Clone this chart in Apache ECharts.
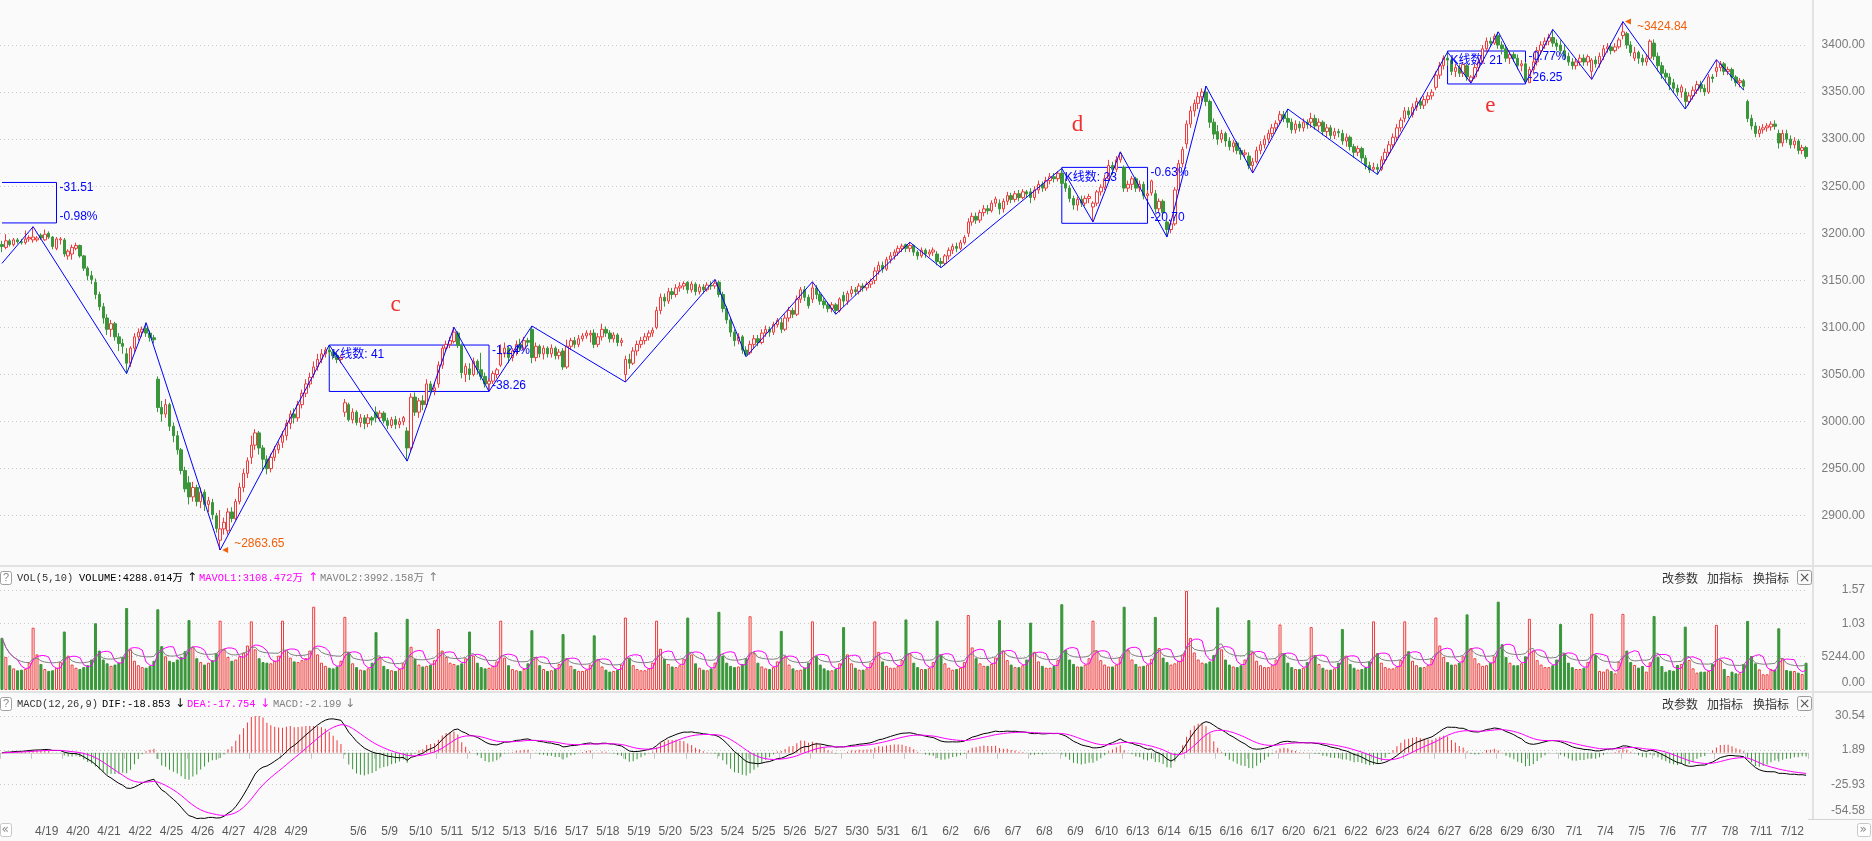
<!DOCTYPE html>
<html>
<head>
<meta charset="utf-8">
<script src="https://cdn.jsdelivr.net/npm/echarts@6/dist/echarts.min.js"></script>
<style>
html,body{margin:0;padding:0;background:#fafafa;overflow:hidden;}
#chart{width:1872px;height:841px;}
</style>
</head>
<body>
<div id="chart"></div>
<script>
// ---------------- data (30-minute bars, 8 per trading day) ----------------
const dates = ['4/18','4/19','4/20','4/21','4/22','4/25','4/26','4/27','4/28','4/29','5/5','5/6','5/9','5/10','5/11','5/12','5/13','5/16','5/17','5/18','5/19','5/20','5/23','5/24','5/25','5/26','5/27','5/30','5/31','6/1','6/2','6/6','6/7','6/8','6/9','6/10','6/13','6/14','6/15','6/16','6/17','6/20','6/21','6/22','6/23','6/24','6/27','6/28','6/29','6/30','7/1','7/4','7/5','7/6','7/7','7/8','7/11','7/12'];
const hiddenDateLabels = ['4/18','5/5'];
const barsPerDay = 8;
// [open, close, low, high]
const kdata = [
[3188,3186,3180,3192],[3185,3192,3183,3199],[3192,3188,3186,3194],[3188,3193,3186,3195],[3193,3191,3189,3195],[3191,3190,3188,3194],[3190,3194,3188,3203],[3194,3195.5,3191,3198],
[3193,3196,3190,3207],[3193,3195,3191,3197],[3198,3195,3193,3200],[3193,3199,3192,3204],[3200,3196,3194,3202],[3196,3186,3183,3197],[3184,3194,3182,3196],[3193,3194,3188,3196],
[3193,3178,3175,3195],[3176,3181,3172,3183],[3178,3185,3172,3188],[3184,3187,3182,3190],[3187,3176,3174,3188],[3176,3163,3160,3177],[3163,3155,3150,3165],[3155,3151,3146,3160],
[3148,3135,3130,3152],[3135,3122,3118,3138],[3122,3110,3104,3126],[3110,3098,3092,3114],[3098,3104,3090,3108],[3104,3090,3086,3106],[3090,3083,3075,3094],[3083,3080,3072,3088],
[3072,3062,3051,3078],[3062,3078,3058,3080],[3078,3090,3074,3094],[3090,3095,3086,3099],[3095,3098,3090,3101],[3099,3094,3090,3105],[3094,3089,3085,3097],[3089,3087,3083,3092],
[3045,3015,3010,3048],[3015,3008,3000,3022],[3008,3018,3004,3024],[3018,2995,2990,3020],[2995,2985,2978,2999],[2985,2970,2965,2990],[2970,2948,2944,2972],[2948,2928.5,2925,2952],
[2935,2920,2912,2942],[2920,2930,2915,2936],[2930,2915,2910,2933],[2915,2925,2908,2930],[2925,2912,2905,2928],[2912,2916,2904,2920],[2914,2901,2896,2918],[2900,2886.4,2882,2903],
[2874,2886,2863.65,2906],[2886,2893,2880,2898],[2884,2904,2880,2908],[2904,2897,2893,2909],[2897,2915,2895,2918],[2915,2930,2912,2935],[2930,2945,2925,2950],[2945,2958.3,2940,2962],
[2962,2975,2955,2985],[2975,2988,2970,2992],[2988,2972,2965,2990],[2972,2960,2948,2975],[2960,2950,2944,2964],[2950,2962,2946,2966],[2962,2970,2958,2974],[2970,2975.5,2966,2979],
[2978,2985,2972,2990],[2985,2998,2980,3002],[2998,3008,2992,3012],[3008,3004,2998,3014],[3004,3018,3000,3022],[3018,3030,3014,3034],[3030,3040,3026,3045],[3040,3047,3036,3052],
[3050,3058,3046,3064],[3058,3066,3054,3072],[3066,3072,3062,3077],[3072,3076,3068,3079],[3076,3074,3070,3081.3],[3074,3070,3066,3077],[3070,3066,3062,3073],[3066,3067.8,3062,3071],
[3010,3020,3005,3024],[3018,3002,3000,3020],[3002,3010,2998,3014],[3010,2999,2996,3012],[2999,3004,2994,3008],[3004,2998,2992,3007],[2998,3004,2994,3008],[3004,3001.6,2996,3006],
[3010,3004,2999,3016],[3004,3009,3000,3012],[3009,3001,2998,3011],[3001,2996,2992,3004],[2996,3002,2993,3005],[3002,2997,2992,3006],[2997,3000,2993,3004],[3000,3004.1,2996,3006],
[2990,2972,2958,2994],[2972,3026,2968,3030],[3026,3010,3006,3031],[3010,3022,3004,3025],[3022,3018,3012,3028],[3018,3040,3015,3045],[3040,3033,3030,3043],[3033,3035.8,3028,3041],
[3040,3060,3036,3064],[3060,3078,3056,3081],[3078,3082,3074,3086],[3082,3086,3078,3090],[3085,3095,3083,3100.3],[3094,3081,3078,3096],[3081,3052,3046,3083],[3050,3058.7,3042,3062],
[3056,3050,3044,3062],[3050,3064,3048,3068],[3064,3055,3050,3066],[3055,3048,3044,3073],[3048,3040,3036,3052],[3040,3043,3032,3046],[3043,3051,3040,3054],[3050,3055,3046,3057],
[3060,3072,3058,3082],[3072,3078,3068,3084],[3078,3068,3062,3080],[3068,3075,3064,3078],[3075,3082,3070,3086],[3082,3078,3074,3088],[3078,3086,3075,3090],[3086,3084.3,3080,3089],
[3098,3068,3062,3101.5],[3068,3080,3064,3084],[3080,3072,3068,3082],[3072,3078,3066,3081],[3078,3072,3068,3080],[3072,3078,3068,3082],[3078,3070,3066,3080],[3070,3073.8,3066,3077],
[3075,3058,3055,3078],[3058,3080,3056,3087],[3080,3086,3076,3089],[3086,3082,3078,3090],[3082,3088,3079,3092],[3088,3091,3085,3094],[3091,3094,3088,3097],[3092,3093.7,3084,3097],
[3094,3082,3078,3098],[3082,3090,3079,3094],[3090,3098,3086,3104],[3098,3094,3090,3101],[3094,3088,3084,3097],[3088,3092,3084,3095],[3092,3084,3080,3094],[3084,3086,3080,3089],
[3050,3066,3042,3070],[3066,3062,3056,3072],[3062,3075,3060,3079],[3075,3082,3070,3086],[3082,3086,3078,3090],[3086,3090,3082,3094],[3090,3094,3086,3097],[3094,3097,3090,3100],
[3100,3118,3098,3122],[3118,3132,3114,3136],[3132,3128,3122,3136],[3128,3138,3125,3142],[3138,3135,3130,3142],[3135,3142,3132,3146],[3142,3144,3138,3148],[3144,3146.6,3140,3149],
[3148,3140,3136,3149],[3140,3146,3137,3149],[3146,3138,3134,3148],[3138,3143,3135,3146],[3143,3140,3136,3146],[3140,3145,3138,3148],[3145,3144,3140,3149],[3144,3146.9,3141,3151],
[3148,3135,3132,3150],[3135,3120,3116,3138],[3120,3108,3104,3123],[3108,3095,3090,3111],[3095,3086,3080,3098],[3086,3090,3082,3094],[3090,3076,3072,3092],[3076,3070.9,3069,3080],
[3073,3082,3071,3086],[3082,3088,3078,3092],[3088,3084,3080,3092],[3084,3094,3082,3098],[3094,3098,3090,3102],[3098,3095,3090,3101],[3095,3103,3092,3106],[3103,3107.5,3100,3110],
[3105,3098,3094,3110],[3098,3110,3096,3114],[3110,3118,3106,3122],[3118,3114,3110,3121],[3114,3130,3112,3134],[3130,3140,3126,3143],[3140,3132,3128,3144],[3132,3123.1,3120,3135],
[3130,3142,3126,3148.5],[3142,3135,3130,3145],[3135,3128,3124,3138],[3128,3124,3120,3131],[3124,3120,3116,3127],[3120,3124,3116,3127],[3124,3118,3114,3126],[3118,3130.2,3116,3132],
[3134,3128,3122,3138],[3128,3136,3124,3139],[3136,3140,3132,3144],[3140,3138,3134,3143],[3138,3144,3135,3147],[3144,3142,3138,3147],[3142,3146,3139,3149],[3146,3149.1,3142,3152],
[3150,3160,3146,3164],[3160,3166,3156,3170],[3166,3162,3158,3170],[3162,3172,3160,3175],[3172,3176,3168,3180],[3176,3180,3172,3183],[3180,3184,3176,3187],[3184,3186.4,3180,3189],
[3188,3184,3180,3189],[3184,3187,3180,3190.5],[3187,3180,3176,3188],[3180,3176,3172,3182],[3176,3182,3174,3185],[3182,3178,3174,3184],[3178,3180,3175,3183],[3180,3182.2,3176,3185],
[3178,3170,3166,3181],[3170,3168,3163.5,3174],[3168,3176,3166,3178],[3176,3182,3172,3185],[3182,3186,3178,3189],[3186,3184,3180,3190],[3184,3190,3182,3193],[3190,3195.5,3188,3198],
[3200,3212,3196,3216],[3212,3218,3208,3222],[3218,3214,3210,3222],[3214,3222,3211,3225],[3222,3226,3218,3230],[3226,3224,3220,3230],[3224,3232,3222,3235],[3232,3236.4,3228,3239],
[3232,3226,3220,3236],[3226,3234,3222,3237],[3234,3240,3230,3244],[3240,3236,3232,3243],[3236,3242,3233,3245],[3242,3238,3234,3246],[3238,3244,3236,3247],[3244,3241.8,3238,3246],
[3244,3238,3232,3248],[3238,3246,3235,3250],[3246,3252,3242,3256],[3252,3248,3244,3255],[3248,3256,3245,3260],[3256,3260,3252,3264],[3260,3258,3254,3264],[3258,3263.8,3255,3266],
[3264,3253,3250,3269],[3253,3248,3244,3258],[3248,3237,3233,3251],[3237,3230,3225,3240],[3230,3236,3224,3239],[3236,3232,3228,3240],[3232,3237,3229,3240],[3237,3239,3232,3242],
[3228,3232,3212,3234],[3232,3244,3229,3246],[3244,3249,3240,3252],[3249,3258,3246,3262],[3258,3272,3256,3278],[3272,3268,3262,3276],[3268,3278,3265,3282],[3278,3284.8,3275,3286.5],
[3270,3248,3244,3272],[3248,3252,3244,3256],[3252,3258,3246,3261],[3258,3248,3244,3260],[3248,3252,3244,3256],[3252,3240,3236,3255],[3240,3242,3236,3246],[3243,3255.6,3240,3257],
[3242,3226,3222,3246],[3226,3234,3222,3237],[3234,3222,3218,3236],[3212,3204,3196,3214],[3204,3210,3200,3214],[3210,3246,3208,3249],[3246,3274,3244,3278],[3274,3288.9,3270,3292],
[3295,3316,3290,3320],[3316,3330,3312,3335],[3330,3338,3324,3342],[3338,3345,3332,3350],[3345,3350,3340,3354],[3350,3340,3335,3356.4],[3340,3318,3312,3342],[3318,3305.4,3300,3322],
[3308,3300,3294,3315],[3300,3306,3296,3310],[3306,3298,3292,3308],[3298,3292,3288,3302],[3292,3296,3286,3299],[3296,3288,3284,3298],[3288,3284,3278,3291],[3284,3285.4,3280,3289],
[3282,3272,3268,3286],[3272,3276,3264,3280],[3276,3288,3274,3292],[3288,3294,3284,3298],[3294,3300,3290,3304],[3300,3306,3296,3310],[3306,3312,3302,3316],[3312,3316.8,3308,3320],
[3320,3326,3316,3330],[3326,3322,3318,3330],[3322,3318,3312,3332],[3318,3310,3306,3322],[3310,3316,3306,3320],[3316,3312,3308,3319],[3312,3318,3308,3322],[3318,3315.4,3311,3321],
[3318,3322,3312,3328],[3322,3314,3310,3326],[3314,3318,3309,3322],[3318,3308,3304,3320],[3308,3312,3302,3316],[3312,3304,3300,3315],[3304,3308,3300,3312],[3308,3306.7,3302,3311],
[3306,3298,3294,3310],[3298,3302,3292,3306],[3302,3292,3288,3304],[3292,3286,3280,3295],[3286,3290,3282,3293],[3290,3280,3276,3292],[3280,3272,3268,3283],[3272,3267.2,3264,3276],
[3268,3270,3266,3275],[3270,3268,3262.5,3274],[3268,3278,3266,3282],[3278,3286,3274,3290],[3286,3294,3282,3298],[3294,3302,3290,3306],[3302,3312,3298,3316],[3312,3320.2,3308,3323],
[3322,3330,3318,3334],[3330,3326,3322,3334],[3326,3334,3323,3338],[3334,3340,3330,3344],[3340,3336,3332,3344],[3336,3342,3332,3346],[3342,3346,3338,3350],[3346,3349.8,3342,3353],
[3355,3368,3352,3372],[3368,3378,3364,3382],[3378,3386,3374,3389],[3386,3384,3378,3392.5],[3384,3372,3368,3386],[3372,3376,3366,3380],[3376,3370,3366,3379],[3370,3379.2,3366,3382],
[3378,3366,3362,3380],[3362,3366,3359.5,3368],[3366,3376,3364,3380],[3376,3382,3372,3386],[3382,3396,3380,3400],[3396,3404,3392,3408],[3404,3402,3398,3408],[3402,3409.2,3400,3412],
[3410,3400,3396,3414],[3400,3396,3390,3404],[3396,3386,3382,3400],[3386,3390,3380,3394],[3390,3386,3382,3393],[3386,3378,3374,3390],[3378,3380,3372,3384],[3380,3361.5,3359.5,3382],
[3360,3374,3360.5,3377],[3374,3382,3370,3386],[3382,3394,3378,3398],[3394,3400,3390,3404],[3400,3404,3396,3408],[3404,3408,3400,3412],[3408,3402,3398,3416.6],[3402,3398.6,3394,3406],
[3400,3394,3390,3405],[3394,3388,3384,3400],[3388,3382,3378,3392],[3382,3378,3374,3386],[3378,3382,3374,3386],[3382,3386,3378,3390],[3386,3382,3378,3390],[3382,3387.6,3378,3390],
[3372,3384,3363.5,3386],[3384,3380,3376,3388],[3380,3388,3376,3392],[3388,3396,3384,3400],[3396,3398,3392,3402],[3398,3394,3390,3402],[3394,3398,3392,3402],[3398,3405.4,3396,3408],
[3410,3414,3406,3424.84],[3412,3400,3396,3414],[3400,3392,3388,3404],[3386,3392,3383,3398],[3392,3386,3380,3394],[3386,3382,3378,3390],[3382,3386,3378,3390],[3386,3404,3384,3406],
[3402,3388,3384,3406],[3388,3378,3372,3392],[3378,3370,3364,3382],[3370,3366,3360,3374],[3366,3358,3352,3370],[3360,3354,3350,3364],[3354,3350,3346,3358],[3350,3355.4,3344,3358],
[3350,3340,3332,3354],[3340,3346,3336,3350],[3346,3352,3342,3356],[3352,3358,3348,3362],[3358,3354,3350,3362],[3354,3350,3346,3358],[3350,3366,3348,3369],[3366,3364.4,3360,3369],
[3372,3376,3366,3384.4],[3376,3380,3372,3383],[3380,3372,3368,3382],[3372,3374,3368,3377],[3374,3366,3362,3376],[3366,3360,3356,3368],[3360,3362,3355,3365],[3362,3356.1,3352,3364],
[3340,3322,3318,3342],[3322,3314,3310,3326],[3314,3306,3302,3318],[3306,3310,3302,3314],[3310,3312,3306,3316],[3312,3314,3308,3317],[3313,3316,3309,3319],[3316,3313.6,3310,3320],
[3306,3296,3290,3310],[3296,3306,3292,3310],[3306,3300,3296,3310],[3300,3294,3290,3304],[3294,3298,3290,3302],[3298,3288,3284,3300],[3288,3291,3284,3294],[3291,3281.5,3279,3293]
];
// volume per bar (万)
const volumes = [
8200,5200,3900,3400,3100,3200,3300,4300,
9800,5600,4100,3300,3000,3100,3500,4400,
9200,5400,4000,3500,3300,3600,3900,4800,
10500,6200,4800,4200,3800,4000,4300,5200,
12900,6400,4600,3900,3600,3500,3800,4600,
12700,6900,5300,4600,4400,4800,5200,6100,
11000,6800,5000,4400,4000,4300,4700,5800,
10900,6500,5200,4600,4800,5300,5900,7000,
10800,6400,5000,4400,4300,4200,4600,5400,
10900,6300,5100,4500,4400,4700,5000,6200,
13100,5600,4300,3800,3500,3400,3700,4600,
11500,6000,4200,3600,3200,3100,3400,4300,
9100,5200,3800,3300,3100,3000,3300,4200,
11200,6800,4900,4000,3700,3800,4000,4700,
9600,6200,5200,4300,4100,3900,4200,5000,
9200,5400,4300,3600,3400,3500,3800,4500,
10900,5100,3900,3300,3100,3000,3300,4200,
9400,5200,3900,3300,3000,3100,3300,4100,
8800,5000,3800,3300,3000,3000,3200,4000,
8600,4900,3700,3200,2900,3000,3200,4000,
11400,5100,3900,3300,3100,3100,3400,4300,
10900,6500,4900,4100,3700,3600,3900,4900,
11400,5600,4200,3500,3200,3100,3400,4300,
12300,5400,4300,3800,3600,3700,4100,5000,
11600,5800,4300,3700,3400,3300,3600,4500,
9300,5300,4000,3400,3100,3200,3500,4300,
10800,5400,4000,3400,3100,3100,3300,4200,
9900,5600,4200,3500,3200,3200,3400,4300,
10800,6000,4500,3800,3500,3500,3800,4700,
11100,5800,4300,3600,3300,3300,3500,4400,
10900,5500,4200,3500,3200,3300,3500,4400,
11800,6700,5000,4200,3800,3800,4100,5100,
11000,6200,4700,4000,3600,3600,3900,4800,
10600,6000,4500,3800,3500,3500,3800,4700,
13500,6300,4800,4100,3700,3700,4000,5000,
10900,6200,4700,4000,3700,3700,4000,5200,
13100,6400,4800,4100,3700,3800,4000,4900,
11500,6600,5100,4400,4000,4200,4600,5600,
15600,8200,5900,4800,4300,4200,4500,5500,
13000,6400,4800,4000,3700,3600,3900,4800,
11000,6000,4600,3900,3600,3600,3900,4800,
10300,5800,4300,3600,3300,3300,3500,4400,
9900,5500,4100,3500,3200,3200,3400,4300,
9600,5400,4100,3500,3200,3300,3600,4500,
10800,5800,4300,3600,3400,3400,3700,4700,
10800,6100,4600,3900,3600,3600,3900,4900,
11400,7000,5200,4400,4000,4000,4300,5300,
11900,6600,5000,4200,3800,3900,4300,5300,
13900,7200,5200,4300,3900,3900,4200,5300,
11200,6200,4700,4000,3600,3600,3900,4800,
10400,5800,4300,3600,3300,3300,3500,4400,
12000,5500,3000,2890,3250,2990,2620,4460,
11970,6200,4410,3940,3520,3780,2890,4360,
11650,5250,3780,2890,3150,3040,3940,4100,
9970,4720,3410,2730,2890,2890,2990,4100,
10240,4720,3310,2200,2890,2620,2620,4100,
10870,5350,4200,3250,2470,2470,3300,3229,
9710,4990,3150,3014,2990,2730,2520,4288
];
// zigzag pivots (bar index, price)
const zigIdx = [0,8,32,37,56,84,104,116,125,136,160,183,191,208,214,233,241,272,280,287,299,309,321,330,353,371,377,384,391,398,408,416,432,440,447];
const zigVal = [3168,3207,3051,3105,2863.65,3081.3,2958,3100.3,3032,3101.5,3042,3151,3069,3148.5,3114,3190.5,3163.5,3269,3212,3286.5,3196,3356.4,3264,3332,3262.5,3392.5,3359.5,3414,3359.5,3416.6,3363.5,3424.84,3332,3384.4,3352];
// measurement boxes (the first one is cut by the left edge)
const boxStart = [0, 84, 272, 371];
const boxEnd = [14, 125, 294, 391];
const boxTop = [3254, 3081.3, 3270, 3393.6];
const boxBottom = [3211, 3032, 3210.6, 3358.6];
const boxTopText = ['-31.51', '-1.24%', '-0.63%', '-0.77%'];
const boxBottomText = ['-0.98%', '-38.26', '-20.70', '-26.25'];
const boxCountText = ['', 'K线数: 41', 'K线数: 23', 'K线数: 21'];
// wave letters
const waveLetters = ['c', 'd', 'e'];
const waveIdx = [101, 276, 382];
const wavePrice = [3124, 3315, 3335];
// extreme annotations
const extremeIdx = [56, 416];
const extremeVal = [2863.65, 3424.84];
const extremeText = ['2863.65', '3424.84'];
// axis tick labels
const volTickLabels = ['0.00', '5244.00', '1.03', '1.57'];
const volAxisMax = 15732;
const macdTickLabels = ['-54.58', '-25.93', '1.89', '30.54'];
const macdMin = -54.58, macdMax = 30.54;
// header texts
const volHeader = ['VOL(5,10)', 'VOLUME:4288.014万', 'MAVOL1:3108.472万', 'MAVOL2:3992.158万'];
const macdHeader = ['MACD(12,26,9)', 'DIF:-18.853', 'DEA:-17.754', 'MACD:-2.199'];

// ---------------- derived ----------------
const RED = '#f03c3c', GREEN = '#3a963a', BG = '#fafafa', BLUE = '#0000ff', MAG = '#ff00ff', GRAY = '#808080', ORANGE = '#f0600a';
const cats = [];
dates.forEach((d, di) => { for (let k = 0; k < barsPerDay; k++) cats.push(d + '#' + di + '#' + k); });
const closes = kdata.map(r => r[1]);
const isUp = kdata.map(r => r[1] >= r[0]);
function ma(arr, n) {
  return arr.map((_, i) => { const s = Math.max(0, i - n + 1); let sum = 0; for (let j = s; j <= i; j++) sum += arr[j]; return +(sum / (i - s + 1)).toFixed(2); });
}
const mav5 = ma(volumes, 5), mav10 = ma(volumes, 10);
const difArr = [], deaArr = [], macdArr = [];
let e12 = closes[0], e26 = closes[0], dea = 0;
closes.forEach(c => {
  e12 = (2 * c + 11 * e12) / 13; e26 = (2 * c + 25 * e26) / 27;
  const d = e12 - e26; dea = (2 * d + 8 * dea) / 10;
  difArr.push(+d.toFixed(3)); deaArr.push(+dea.toFixed(3)); macdArr.push(+(2 * (d - dea)).toFixed(3));
});
const zig = new Array(kdata.length).fill(null);
zigIdx.forEach((i, k) => { zig[i] = zigVal[k]; });

const numFont = 'Liberation Sans';
const mixFont = "'Liberation Sans','Noto Sans CJK SC'";

const markPoints = [];
for (let b = 0; b < boxStart.length; b++) {
  markPoints.push({ coord: [boxEnd[b], boxTop[b]], symbolSize: 0, label: { show: true, position: 'right', distance: 0, offset: [3, 5.5], formatter: () => boxTopText[b], color: BLUE, fontSize: 12, fontFamily: numFont } });
  markPoints.push({ coord: [boxEnd[b], boxBottom[b]], symbolSize: 0, label: { show: true, position: 'right', distance: 0, offset: [3, -6], formatter: () => boxBottomText[b], color: BLUE, fontSize: 12, fontFamily: numFont } });
  if (boxCountText[b]) markPoints.push({ coord: [boxStart[b], boxTop[b]], symbolSize: 0, label: { show: true, position: 'right', distance: 0, offset: [3, 10], formatter: () => boxCountText[b], color: BLUE, fontSize: 12, fontFamily: mixFont } });
}
waveLetters.forEach((t, k) => markPoints.push({ coord: [waveIdx[k], wavePrice[k]], symbolSize: 0, label: { show: true, position: 'inside', formatter: () => t, color: '#f03030', fontSize: 23, fontFamily: 'Liberation Serif' } }));
extremeIdx.forEach((i, k) => {
  markPoints.push({ coord: [i, extremeVal[k]], symbol: 'triangle', symbolSize: [6, 6], symbolRotate: 90, symbolOffset: [5, 0], itemStyle: { color: ORANGE }, label: { show: false } });
  markPoints.push({ coord: [i, extremeVal[k]], symbolSize: 0, label: { show: true, position: 'right', distance: 0, offset: [14, k === 0 ? -6 : 5.5], formatter: () => '~' + extremeText[k], color: ORANGE, fontSize: 12, fontFamily: numFont } });
});

// boxes: fully visible ones as mark areas, the edge-cut one as an open outline
const areaBoxes = [], cutBoxLines = [];
boxStart.forEach((s, b) => {
  if (s <= 0) cutBoxLines.push([[s, boxTop[b]], [boxEnd[b], boxTop[b]], [boxEnd[b], boxBottom[b]], [s, boxBottom[b]]]);
  else areaBoxes.push([{ coord: [s, boxTop[b]] }, { coord: [boxEnd[b], boxBottom[b]] }]);
});

const volData = volumes.map((v, i) => ({ value: v, itemStyle: isUp[i] ? { color: BG, borderColor: RED, borderWidth: 1 } : { color: GREEN, borderColor: GREEN, borderWidth: 1 } }));
const macdData = macdArr.map(v => ({ value: v, itemStyle: { color: v >= 0 ? RED : GREEN } }));

const axisLabelStyle = { fontFamily: numFont, fontSize: 12, color: '#7a7a7a' };
const dotted = { color: '#c8c8c8', type: [1, 3], width: 1 };

function xAx(g) {
  const base = { type: 'category', gridIndex: g, data: cats, boundaryGap: true, axisPointer: { show: false } };
  if (g < 2) return Object.assign(base, { show: false });
  return Object.assign(base, {
    axisLine: { show: true, lineStyle: { color: '#d4d4d4' } },
    axisTick: { show: true, interval: (i) => i % barsPerDay === 0, length: 6, lineStyle: { color: '#c4c4c4' } },
    axisLabel: {
      interval: (i, v) => i % barsPerDay === 4 && hiddenDateLabels.indexOf(String(v).split('#')[0]) < 0,
      formatter: (v) => String(v).split('#')[0],
      margin: 7, padding: [0, 4, 0, 0], fontFamily: numFont, fontSize: 12, color: '#5a5a5a'
    },
    splitLine: { show: false }
  });
}

const series = [
  { type: 'candlestick', xAxisIndex: 0, yAxisIndex: 0, data: kdata, barWidth: 3,
    itemStyle: { color: BG, color0: GREEN, borderColor: RED, borderColor0: GREEN, borderWidth: 1 } },
  { type: 'line', xAxisIndex: 0, yAxisIndex: 0, data: zig, connectNulls: true, symbol: 'none', z: 5,
    lineStyle: { color: BLUE, width: 1 },
    markArea: { silent: true, itemStyle: { color: 'rgba(0,0,0,0)', borderColor: BLUE, borderWidth: 1, opacity: 1 }, data: areaBoxes },
    markPoint: { silent: true, animation: false, data: markPoints } },
  { type: 'bar', xAxisIndex: 1, yAxisIndex: 1, data: volData, barWidth: 3 },
  { type: 'line', xAxisIndex: 1, yAxisIndex: 1, data: mav5, symbol: 'none', lineStyle: { color: MAG, width: 1 }, z: 4 },
  { type: 'line', xAxisIndex: 1, yAxisIndex: 1, data: mav10, symbol: 'none', lineStyle: { color: GRAY, width: 1 }, z: 4 },
  { type: 'bar', xAxisIndex: 2, yAxisIndex: 2, data: macdData, barWidth: 1 },
  { type: 'line', xAxisIndex: 2, yAxisIndex: 2, data: difArr, symbol: 'none', lineStyle: { color: '#000000', width: 1 }, z: 4 },
  { type: 'line', xAxisIndex: 2, yAxisIndex: 2, data: deaArr, symbol: 'none', lineStyle: { color: MAG, width: 1 }, z: 4 }
];
cutBoxLines.forEach(pts => series.push({ type: 'line', xAxisIndex: 0, yAxisIndex: 0, data: pts, symbol: 'none', z: 5, lineStyle: { color: BLUE, width: 1 } }));

const option = {
  animation: false,
  backgroundColor: BG,
  grid: [
    { left: -2, right: 64, top: 0, height: 562.8 },
    { left: -2, right: 64, top: 590, height: 100 },
    { left: -2, right: 64, top: 716, height: 102.5 }
  ],
  xAxis: [xAx(0), xAx(1), xAx(2)],
  yAxis: [
    { type: 'value', gridIndex: 0, position: 'right', min: 2850, max: 3447.8, interval: 50, scale: true,
      axisLine: { show: false }, axisTick: { show: false },
      splitLine: { show: true, showMinLine: false, showMaxLine: false, lineStyle: dotted },
      axisLabel: Object.assign({ align: 'right', margin: 57, formatter: v => (v >= 2900 && v <= 3400) ? v.toFixed(2) : '' }, axisLabelStyle) },
    { type: 'value', gridIndex: 1, position: 'right', min: 0, max: volAxisMax, interval: volAxisMax / 3,
      axisLine: { show: false }, axisTick: { show: false },
      splitLine: { show: true, showMinLine: false, lineStyle: dotted },
      axisLabel: Object.assign({ align: 'right', margin: 57,
        formatter: v => { const i = Math.round(v / (volAxisMax / 3)); return i === 0 ? '{lo|' + volTickLabels[0] + '}' : (volTickLabels[i] || ''); },
        rich: { lo: { padding: [0, 0, 15, 0], fontFamily: numFont, fontSize: 12, color: '#7a7a7a' } } }, axisLabelStyle) },
    { type: 'value', gridIndex: 2, position: 'right', min: macdMin, max: macdMax, interval: (macdMax - macdMin) / 3,
      axisLine: { show: false }, axisTick: { show: false },
      splitLine: { show: true, showMinLine: false, lineStyle: dotted },
      axisLabel: Object.assign({ align: 'right', margin: 57,
        formatter: v => { const i = Math.round((v - macdMin) / ((macdMax - macdMin) / 3)); return i === 0 ? '{lo|' + macdTickLabels[0] + '}' : (macdTickLabels[i] || ''); },
        rich: { lo: { padding: [0, 0, 15, 0], fontFamily: numFont, fontSize: 12, color: '#7a7a7a' } } }, axisLabelStyle) }
  ],
  series: series
};

// ---------------- static frame / header texts ----------------
const hdrFont = "10.4px 'Liberation Mono','Noto Sans CJK SC'";
const cnFont = "12px 'Noto Sans CJK SC'";
function T(x, y, text, fill, font) { return { type: 'text', x, y, silent: true, z: 10, style: { text, fill, font: font || hdrFont, align: 'left', verticalAlign: 'middle' } }; }
function L(x1, y1, x2, y2, c, w) { return { type: 'line', silent: true, z: 9, shape: { x1, y1, x2, y2 }, style: { stroke: c, lineWidth: w } }; }
function R(x, y, w, h, stroke, fill) { return { type: 'rect', silent: true, z: 10, shape: { x, y, width: w, height: h, r: 2 }, style: { stroke, fill, lineWidth: 1 } }; }
function headerRow(y, parts, xs, ax, arrow) {
  const els = [R(0.5, y - 6.5, 11, 13, '#a0a0a0', '#ffffff'), T(3, y, '?', '#888888', "11px 'Liberation Sans'")];
  const cols = ['#333333', '#000000', MAG, GRAY];
  parts.forEach((p, k) => els.push(T(xs[k], y, p, cols[k])));
  ax.forEach((x, k) => els.push(T(x, y, arrow, cols[k + 1], "12px 'DejaVu Sans'")));
  els.push(T(1662, y, '改参数', '#333333', cnFont), T(1707, y, '加指标', '#333333', cnFont), T(1753, y, '换指标', '#333333', cnFont));
  els.push(R(1797.5, y - 7.5, 14, 14, '#9a9a9a', '#fafafa'), { type: 'text', x: 1804.5, y: y, silent: true, z: 11, style: { text: '×', fill: '#555', font: "14px 'DejaVu Sans'", align: 'center', verticalAlign: 'middle' } });
  return els;
}
option.graphic = [].concat(
  [L(0, 566, 1872, 566, '#e2e2e2', 2), L(0, 692, 1872, 692, '#e2e2e2', 2), L(1813, 0, 1813, 819, '#e2e2e2', 2), L(1808, 819.5, 1872, 819.5, '#d4d4d4', 1)],
  headerRow(578, volHeader, [17, 79, 199, 320], [187, 308, 428], '↑'),
  headerRow(704, macdHeader, [17, 102, 187, 273], [175, 260, 345], '↓'),
  [R(0.5, 823.5, 11, 13, '#c8c8c8', '#ffffff'), T(1.5, 830, '«', '#888', "12px 'DejaVu Sans'"),
   R(1857.5, 823.5, 13, 13, '#c8c8c8', '#ffffff'), T(1859.5, 830, '»', '#888', "12px 'DejaVu Sans'")]
);

const chart = echarts.init(document.getElementById('chart'), null, { renderer: 'canvas' });
chart.setOption(option);
</script>
</body>
</html>
